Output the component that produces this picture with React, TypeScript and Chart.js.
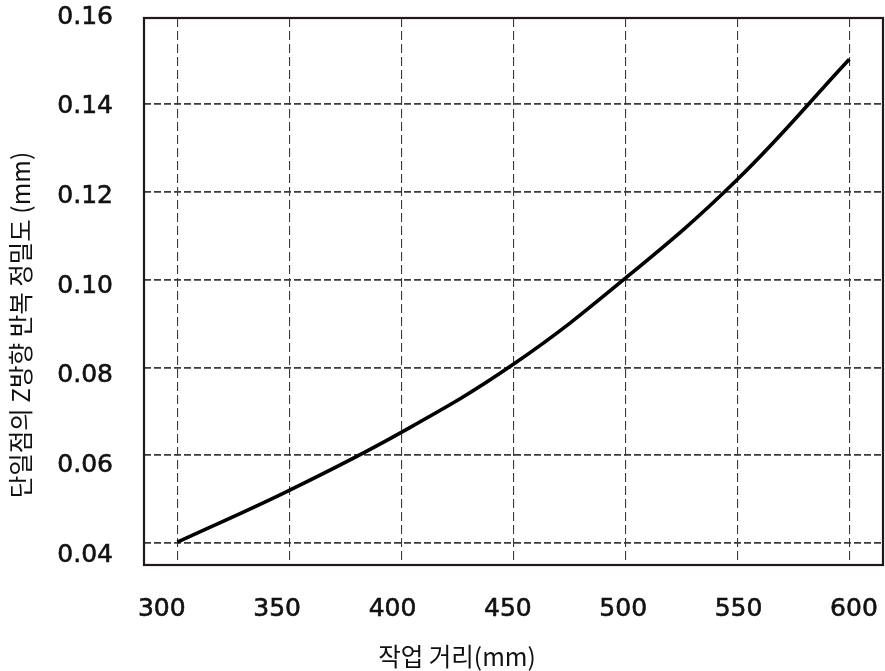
import React, { useEffect, useRef } from 'react';
import { Chart, registerables } from 'chart.js';

Chart.register(...registerables);

// Data
const distances = [300, 350, 400, 450, 500, 550, 600];
const precision = [0.0402, 0.052, 0.0652, 0.0807, 0.1003, 0.1228, 0.1502];

// Tick values
const xTickValues = [300, 350, 400, 450, 500, 550, 600];
const yTickValues = [0.04, 0.06, 0.08, 0.1, 0.12, 0.14, 0.16];
const yGridValues = [0.04, 0.06, 0.08, 0.1, 0.12, 0.14];

const xTitle = '작업 거리(mm)';
const yTitle = '단일점의 Z방향 반복 정밀도 (mm)';

const INK = '#231815';
const GRID = '#3e3a39';

const zeroPad = (axis: any) => {
  axis.paddingTop = 0;
  axis.paddingBottom = 0;
  axis.paddingLeft = 0;
  axis.paddingRight = 0;
};

const framePlugin = {
  id: 'frameAndTitles',
  afterDraw(chart: any) {
    const { ctx, chartArea: a } = chart;
    ctx.save();
    ctx.setLineDash([]);
    ctx.strokeStyle = INK;
    ctx.lineWidth = 2.2;
    ctx.strokeRect(a.left, a.top, a.right - a.left, a.bottom - a.top);
    ctx.fillStyle = '#111111';
    ctx.font = '24.5px "Noto Sans CJK KR"';
    ctx.textAlign = 'center';
    ctx.textBaseline = 'middle';
    ctx.fillText(xTitle, a.left + 313, a.bottom + 92);
    ctx.translate(a.left - 123, a.top + 307);
    ctx.rotate(-Math.PI / 2);
    ctx.fillText(yTitle, 0, 0);
    ctx.restore();
  },
};

export default function App() {
  const ref = useRef<HTMLCanvasElement | null>(null);

  useEffect(() => {
    if (!ref.current) return;
    const tickFont = { family: '"DejaVu Sans"', size: 25 };
    const chart = new Chart(ref.current, {
      type: 'line',
      data: {
        datasets: [
          {
            data: distances.map((d, i) => ({ x: d, y: precision[i] })),
            borderColor: '#000000',
            borderWidth: 3.6,
            pointRadius: 0,
            fill: false,
            tension: 0.4,
            xAxisID: 'x',
            yAxisID: 'y',
          },
        ],
      },
      options: {
        animation: false,
        responsive: false,
        devicePixelRatio: 1,
        layout: { padding: { top: 18, right: 2, left: 0, bottom: 0 } },
        plugins: { legend: { display: false }, tooltip: { enabled: false } },
        scales: {
          x: {
            type: 'linear',
            position: 'bottom',
            min: 285.13,
            max: 615.04,
            afterBuildTicks: (axis: any) => {
              axis.ticks = xTickValues.map((v) => ({ value: v }));
            },
            afterFit: (axis: any) => {
              axis.height = 0;
              zeroPad(axis);
            },
            ticks: { display: false },
            grid: { color: GRID, lineWidth: 1.1, drawTicks: false },
            border: { display: false, dash: [9, 4] },
          },
          xl: {
            type: 'linear',
            position: 'bottom',
            min: 292.3,
            max: 612.6,
            afterBuildTicks: (axis: any) => {
              axis.ticks = xTickValues.map((v) => ({ value: v }));
            },
            afterFit: (axis: any) => {
              axis.height = 106;
              zeroPad(axis);
            },
            ticks: {
              font: tickFont,
              color: '#111111',
              textStrokeColor: '#111111',
              textStrokeWidth: 0.6,
              padding: 21,
              maxRotation: 0,
              autoSkip: false,
            },
            grid: { display: false },
            border: { display: false },
          },
          y: {
            type: 'linear',
            position: 'left',
            min: 0.034989,
            max: 0.15959,
            afterBuildTicks: (axis: any) => {
              axis.ticks = yGridValues.map((v) => ({ value: v }));
            },
            afterFit: (axis: any) => {
              axis.width = 0;
              zeroPad(axis);
            },
            ticks: { display: false },
            grid: { color: GRID, lineWidth: 1.8, drawTicks: false },
            border: { display: false, dash: [7, 3] },
          },
          yl: {
            type: 'linear',
            position: 'left',
            min: 0.03777,
            max: 0.159777,
            afterBuildTicks: (axis: any) => {
              axis.ticks = yTickValues.map((v) => ({ value: v }));
            },
            afterFit: (axis: any) => {
              axis.width = 144;
              zeroPad(axis);
            },
            ticks: {
              font: tickFont,
              color: '#111111',
              textStrokeColor: '#111111',
              textStrokeWidth: 0.6,
              padding: 23,
              autoSkip: false,
              callback: (v: any) => Number(v).toFixed(2),
            },
            grid: { display: false },
            border: { display: false },
          },
        },
      },
      plugins: [framePlugin],
    } as any);
    return () => chart.destroy();
  }, []);

  return (
    <div style={{ position: 'fixed', left: 0, top: 0, width: 885, height: 671, background: '#ffffff' }}>
      <canvas ref={ref} width={885} height={671} style={{ display: 'block' }} />
    </div>
  );
}
